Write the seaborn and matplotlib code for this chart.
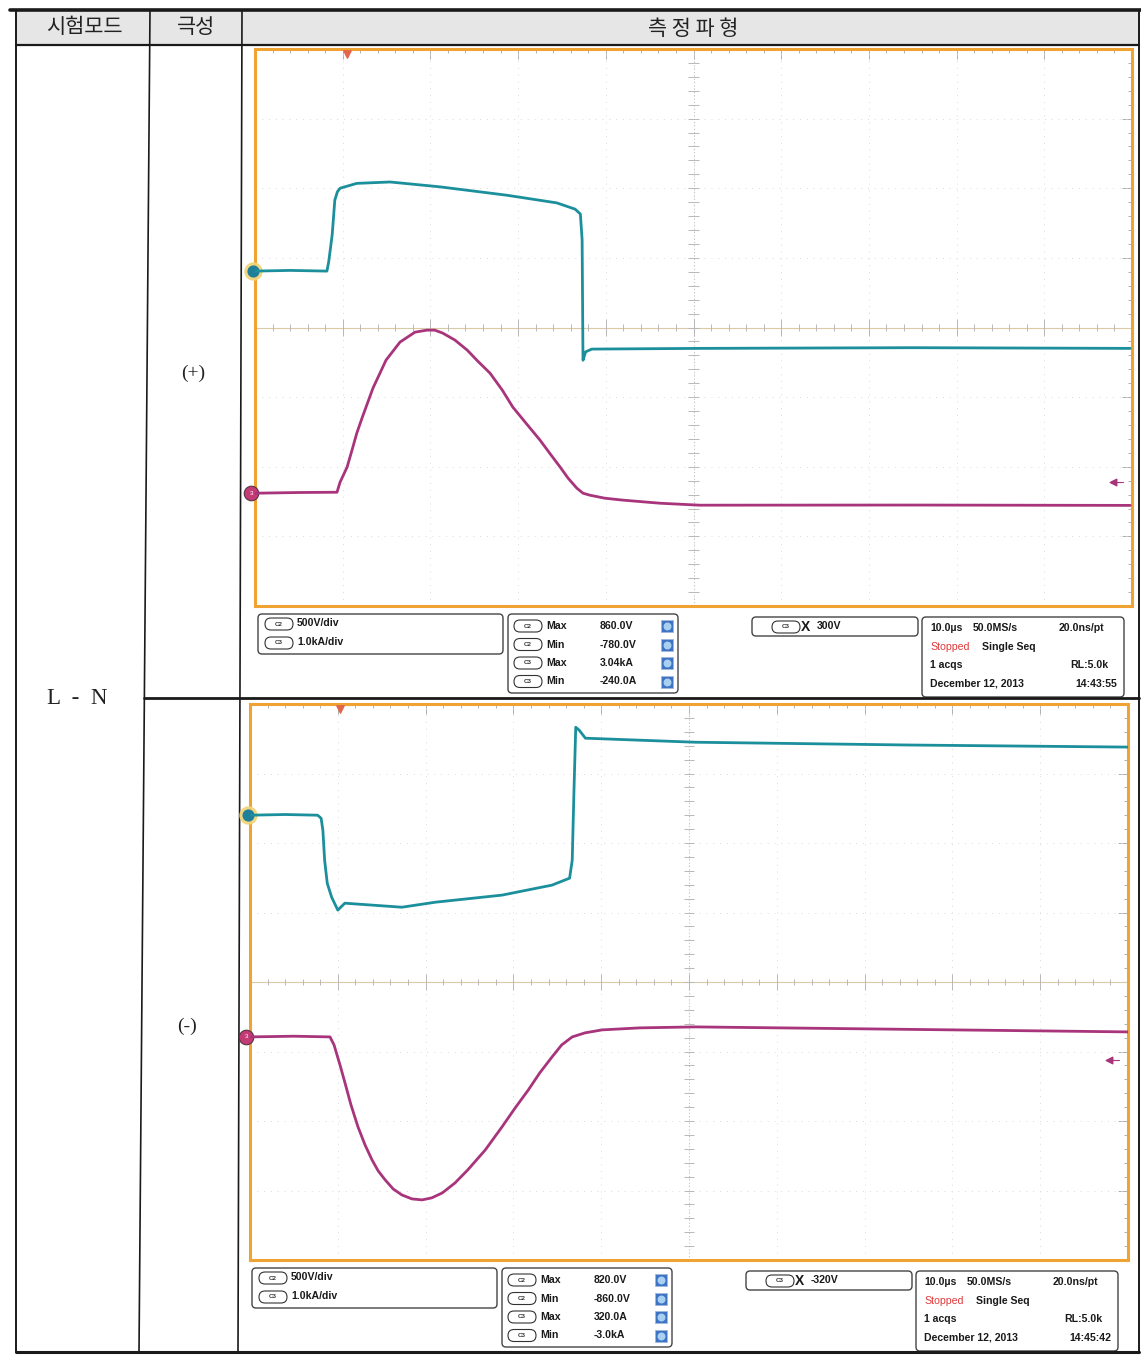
import matplotlib
matplotlib.use("Agg")
import matplotlib.pyplot as plt
import numpy as np
import seaborn as sns
from matplotlib.patches import FancyBboxPatch, Rectangle

W, H = 1141, 1355

# (+) polarity: time [us], C2 voltage [V], C3 current [A]
pos_v_t = [0, 4, 8.2, 8.4, 8.8, 9.1, 9.4, 9.7, 11.6, 15.4, 21.1, 28.7, 34.4, 36.5,
           37.1, 37.3, 37.4, 37.7, 38.4, 50.7, 75, 99.8]
pos_v = [0, 5, 0, 65, 260, 510, 570, 595, 630, 640, 605, 545, 490, 445,
         410, 225, -640, -580, -560, -555, -550, -555]
pos_i_t = [0, 5, 9.35, 9.7, 10.5, 11.06, 11.6, 12.2, 13.45, 14.94, 16.53, 18.24,
           19.6, 20.5, 21.4, 22.8, 24.2, 25.4, 26.8, 28.2, 29.4, 30.9, 32.5, 33.6,
           34.8, 35.7, 36.7, 37.4, 38.2, 39.9, 42.0, 46.2, 50.7, 75, 99.8]
pos_i = [0, 10, 14, 158, 374, 618, 860, 1078, 1509, 1911, 2170, 2313,
         2342, 2342, 2300, 2199, 2055, 1897, 1724, 1480, 1236, 1006, 762, 575,
         374, 216, 72, 0, -29, -72, -100, -144, -172, -170, -175]

# (-) polarity
neg_v_t = [0, 4, 7.7, 8.1, 8.3, 8.5, 8.8, 9.3, 10.0, 10.8, 17.3, 21.1, 28.7, 34.4,
           36.4, 36.7, 36.9, 37.1, 37.5, 38.2, 50.7, 75, 100]
neg_v = [0, 5, 0, -22, -108, -324, -490, -590, -683, -633, -662, -626, -575, -503,
         -453, -324, 180, 633, 611, 554, 525, 505, 490]
neg_i_t = [0, 5, 9.11, 9.57, 10.25, 10.82, 11.5, 12.3, 13.1, 13.9, 14.6, 15.4,
           16.3, 17.3, 18.45, 19.6, 20.7, 21.9, 23.35, 24.8, 26.8, 28.7, 30.2,
           31.7, 33.0, 34.4, 35.5, 36.7, 38.15, 40.1, 44.4, 50.7, 74.0, 100]
neg_i = [0, 10, 0, -115, -403, -662, -978, -1295, -1554, -1770, -1928, -2058,
         -2187, -2274, -2331, -2345, -2316, -2245, -2101, -1914, -1626, -1295,
         -1022, -763, -518, -288, -115, 0, 58, 101, 130, 144, 110, 72]

# channel ground positions on screen [div from centre]
pos_v_off, pos_i_off = 0.81, -2.38
neg_v_off, neg_i_off = 2.40, -0.79
V_DIV, I_DIV = 500, 1000

# readout texts
scale_ch = ["C2", "C3"]
scale_txt = ["500V/div", "1.0kA/div"]
meas_ch = ["C2", "C2", "C3", "C3"]
meas_name = ["Max", "Min", "Max", "Min"]
pos_meas = ["860.0V", "-780.0V", "3.04kA", "-240.0A"]
neg_meas = ["820.0V", "-860.0V", "320.0A", "-3.0kA"]
pos_trig, neg_trig = "300V", "-320V"
pos_clock, neg_clock = "14:43:55", "14:45:42"

CYAN = "#1c8f9c"
MAGENTA = "#a8347c"
ORANGE = "#f0a232"
FS = 7.6

sns.set_style("white")
plt.rcParams["font.family"] = ["Liberation Sans", "Noto Sans CJK KR", "DejaVu Sans"]

fig = plt.figure(figsize=(W / 100, H / 100), dpi=100)
page = fig.add_axes([0, 0, 1, 1])
page.set_xlim(0, W)
page.set_ylim(H, 0)
page.axis("off")


def frac(x0, y0, x1, y1):
    return [x0 / W, 1 - y1 / H, (x1 - x0) / W, (y1 - y0) / H]


def draw_scope(box, v_t, v, i_t, i, v_off, i_off, trig_t, arrow_div):
    rect = frac(*box)
    # graticule in divisions
    g = fig.add_axes(rect)
    g.set_xlim(0, 10)
    g.set_ylim(-4, 4)
    g.set_xticks(np.arange(0, 10.01, 1))
    g.set_yticks(np.arange(-4, 4.01, 1))
    g.set_xticks(np.arange(0, 10.01, 0.2), minor=True)
    g.set_yticks(np.arange(-4, 4.01, 0.2), minor=True)
    g.tick_params(which="both", direction="in", top=True, right=True,
                  labelbottom=False, labelleft=False, color="#b0b0b0", width=0.7)
    g.tick_params(which="major", length=7)
    g.tick_params(which="minor", length=3)
    for s in g.spines.values():
        s.set_color(ORANGE)
        s.set_linewidth(2.2)
    for k in range(1, 10):
        g.axvline(k, color="#dadada", lw=0.7, ls=(0, (1, 6)))
    for k in range(-3, 4):
        g.axhline(k, color="#dadada", lw=0.7, ls=(0, (1, 6)))
    g.axhline(0, color="#d9c9a4", lw=0.8)
    g.axvline(5, color="#c4c4c4", lw=0.8, ls=(0, (1, 2)))
    mx = np.arange(0, 10.01, 0.2)
    my = np.arange(-4, 4.01, 0.2)
    g.vlines(mx, -0.05, 0.05, color="#b8b8b8", lw=0.7)
    g.vlines(np.arange(1, 10), -0.12, 0.12, color="#b8b8b8", lw=0.7)
    g.hlines(my, 4.94, 5.06, color="#b8b8b8", lw=0.7)
    # trigger position / level markers
    g.scatter([trig_t / 10], [3.93], marker="v", s=28, color="#e2664c", zorder=5)
    g.scatter([9.78], [arrow_div], marker="<", s=22, color=MAGENTA, zorder=5)
    g.plot([9.78, 9.9], [arrow_div, arrow_div], color=MAGENTA, lw=0.8)

    av = fig.add_axes(rect, facecolor="none")
    av.set_xlim(0, 100)
    av.set_ylim((-4 - v_off) * V_DIV, (4 - v_off) * V_DIV)
    av.axis("off")
    sns.lineplot(x=v_t, y=v, ax=av, color=CYAN, lw=2.0, sort=False)

    ai = fig.add_axes(rect, facecolor="none")
    ai.set_xlim(0, 100)
    ai.set_ylim((-4 - i_off) * I_DIV, (4 - i_off) * I_DIV)
    ai.axis("off")
    sns.lineplot(x=i_t, y=i, ax=ai, color=MAGENTA, lw=2.0, sort=False)

    # channel ground markers
    g.scatter([-0.02], [v_off], s=150, color="#f1d477", alpha=0.9, clip_on=False, zorder=6)
    g.scatter([-0.02], [v_off], s=60, color="#1d7f9a", clip_on=False, zorder=7)
    g.scatter([-0.04], [i_off], s=110, color="#c43a74", edgecolor="#553344",
              lw=0.8, clip_on=False, zorder=7)
    g.text(-0.04, i_off, "3", color="white", fontsize=4.5, ha="center", va="center",
           zorder=8, clip_on=False)


def box(x0, y0, x1, y1):
    page.add_patch(FancyBboxPatch((x0, y0), x1 - x0, y1 - y0,
                                  boxstyle="round,pad=0,rounding_size=4",
                                  fc="white", ec="#444444", lw=1.0))


def pill(cx, cy, label):
    page.add_patch(FancyBboxPatch((cx - 14, cy - 6), 28, 12,
                                  boxstyle="round,pad=0,rounding_size=6",
                                  fc="white", ec="#333333", lw=0.8))
    page.text(cx, cy, label, fontsize=4.5, fontweight="bold", ha="center",
              va="center", color="#333333")


def draw_readout(dx, dy, meas, trig, clock):
    bold = dict(fontsize=FS, fontweight="bold", va="center", color="#1a1a1a")
    box(258 + dx, 614 + dy, 503 + dx, 654 + dy)
    for k, (ch, txt) in enumerate(zip(scale_ch, scale_txt)):
        y = 624 + 19 * k + dy
        pill(279 + dx, y, ch)
        page.text(297 + dx, y - 1, txt, **bold)
    box(508 + dx, 614 + dy, 678 + dx, 693 + dy)
    for k in range(4):
        y = 626 + 18.5 * k + dy
        pill(528 + dx, y, meas_ch[k])
        page.text(546 + dx, y, meas_name[k], **bold)
        page.text(600 + dx, y, meas[k], **bold)
        page.scatter([667 + dx], [y], marker="s", s=70, color="#3f74c4",
                     edgecolor="#9fb8e0", lw=0.6, zorder=5)
        page.scatter([667 + dx], [y], marker="o", s=22, color="#a8d0f0", zorder=6)
    box(752 + dx, 617 + dy, 918 + dx, 636 + dy)
    pill(786 + dx, 627 + dy, "C3")
    page.text(801 + dx, 627 + dy, "X", fontsize=10, fontweight="bold", va="center",
              color="#1a1a1a")
    page.text(817 + dx, 626 + dy, trig, **bold)
    box(922 + dx, 617 + dy, 1124 + dx, 697 + dy)
    page.text(930 + dx, 628 + dy, "10.0µs", **bold)
    page.text(973 + dx, 628 + dy, "50.0MS/s", **bold)
    page.text(1104 + dx, 628 + dy, "20.0ns/pt", ha="right", fontsize=FS,
              fontweight="bold", va="center", color="#1a1a1a")
    page.text(930 + dx, 647 + dy, "Stopped", fontsize=FS, va="center",
              color="#e03a3a")
    page.text(982 + dx, 647 + dy, "Single Seq", **bold)
    page.text(930 + dx, 665 + dy, "1 acqs", **bold)
    page.text(1108 + dx, 665 + dy, "RL:5.0k", ha="right", fontsize=FS,
              fontweight="bold", va="center", color="#1a1a1a")
    page.text(930 + dx, 684 + dy, "December 12, 2013", **bold)
    page.text(1117 + dx, 684 + dy, clock, ha="right", fontsize=FS,
              fontweight="bold", va="center", color="#1a1a1a")


# table frame
page.add_patch(Rectangle((16, 10), 1123, 35, fc="#e6e6e6", ec="none"))
line = dict(color="#1a1a1a")
page.plot([10, 1141], [10, 10], lw=2.6, **line)
page.plot([16, 1139], [45, 45], lw=1.6, **line)
page.plot([16, 16], [10, 1352], lw=1.4, **line)
page.plot([150, 139], [10, 1352], lw=1.2, **line)
page.plot([242, 238], [10, 1352], lw=1.2, **line)
page.plot([1139, 1139], [10, 1352], lw=1.4, **line)
page.plot([144, 1139], [698, 698], lw=2.0, **line)
page.plot([16, 1139], [1352, 1352], lw=2.2, **line)

kr = dict(family=["Noto Sans CJK KR", "DejaVu Sans"], fontsize=15, ha="center",
          va="center", color="#222222")
page.text(84, 27, "시험모드", **kr)
page.text(196, 27, "극성", **kr)
page.text(693, 29, "측 정 파 형", **kr)
serif = dict(family=["Liberation Serif", "DejaVu Serif"], ha="center", va="center",
             color="#222222")
page.text(77, 698, "L  -  N", fontsize=16.5, **serif)
page.text(193, 373, "(+)", fontsize=14, **serif)
page.text(187, 1026, "(-)", fontsize=14, **serif)

draw_scope((255, 49, 1132, 606), pos_v_t, pos_v, pos_i_t, pos_i,
           pos_v_off, pos_i_off, 10.5, -2.22)
draw_scope((250, 704, 1128, 1260), neg_v_t, neg_v, neg_i_t, neg_i,
           neg_v_off, neg_i_off, 10.25, -1.12)

draw_readout(0, 0, pos_meas, pos_trig, pos_clock)
draw_readout(-6, 654, neg_meas, neg_trig, neg_clock)

fig.savefig("out.png", dpi=100)
